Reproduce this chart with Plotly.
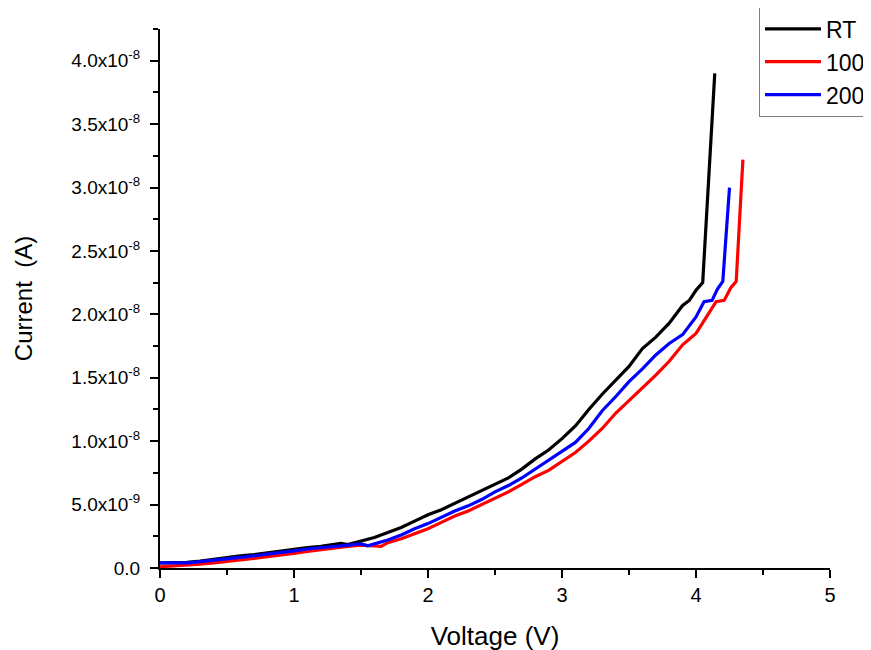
import plotly.graph_objects as go

# Voltage (V) and current (x1e-8 A)
v_rt = [0.0, 0.1, 0.2, 0.3, 0.4, 0.5, 0.6, 0.7, 0.8, 0.9, 1.0, 1.1, 1.2, 1.3, 1.35, 1.4, 1.5,
        1.6, 1.7, 1.8, 1.9, 2.0, 2.1, 2.2, 2.3, 2.4, 2.5, 2.6, 2.7, 2.8, 2.9, 3.0, 3.1,
        3.2, 3.3, 3.4, 3.5, 3.6, 3.7, 3.8, 3.9, 3.95, 4.0, 4.05, 4.14]
i_rt = [0.04, 0.04, 0.045, 0.055, 0.07, 0.08, 0.095, 0.105, 0.12, 0.13, 0.145, 0.16, 0.17,
        0.185, 0.195, 0.185, 0.21, 0.24, 0.28, 0.32, 0.37, 0.42, 0.46, 0.51, 0.56, 0.61,
        0.655, 0.71, 0.78, 0.86, 0.93, 1.02, 1.12, 1.25, 1.37, 1.48, 1.59, 1.73, 1.82,
        1.93, 2.07, 2.11, 2.19, 2.25, 3.90]

v_100 = [0.0, 0.1, 0.2, 0.3, 0.4, 0.5, 0.6, 0.7, 0.8, 0.9, 1.0, 1.1, 1.2, 1.3, 1.4, 1.5,
         1.6, 1.65, 1.7, 1.8, 1.9, 2.0, 2.1, 2.2, 2.3, 2.4, 2.5, 2.6, 2.7, 2.8, 2.9, 3.0,
         3.1, 3.2, 3.3, 3.4, 3.5, 3.6, 3.7, 3.8, 3.9, 4.0, 4.1, 4.15, 4.21, 4.26, 4.30, 4.35]
i_100 = [0.01, 0.015, 0.02, 0.03, 0.04, 0.05, 0.065, 0.075, 0.09, 0.10, 0.115, 0.13, 0.145,
         0.16, 0.17, 0.18, 0.175, 0.17, 0.20, 0.23, 0.27, 0.31, 0.36, 0.41, 0.45, 0.50,
         0.55, 0.60, 0.66, 0.72, 0.77, 0.84, 0.91, 1.00, 1.10, 1.22, 1.32, 1.42, 1.52,
         1.63, 1.76, 1.85, 2.01, 2.10, 2.11, 2.21, 2.26, 3.22]

v_200 = [0.0, 0.1, 0.2, 0.3, 0.4, 0.5, 0.6, 0.7, 0.8, 0.9, 1.0, 1.1, 1.2, 1.3, 1.4, 1.5,
         1.55, 1.6, 1.7, 1.8, 1.9, 2.0, 2.1, 2.2, 2.3, 2.4, 2.5, 2.6, 2.7, 2.8, 2.9, 3.0,
         3.1, 3.2, 3.3, 3.4, 3.5, 3.6, 3.7, 3.8, 3.9, 4.0, 4.06, 4.12, 4.16, 4.20, 4.25]
i_200 = [0.04, 0.04, 0.04, 0.05, 0.06, 0.075, 0.085, 0.095, 0.11, 0.12, 0.135, 0.15, 0.16,
         0.175, 0.185, 0.19, 0.175, 0.19, 0.22, 0.26, 0.31, 0.35, 0.40, 0.45, 0.49, 0.54,
         0.60, 0.65, 0.71, 0.78, 0.85, 0.92, 0.99, 1.10, 1.24, 1.35, 1.47, 1.57, 1.68,
         1.77, 1.84, 1.98, 2.10, 2.11, 2.20, 2.26, 3.00]

series_names = ["RT", "100", "200"]
series_colors = ["#000000", "#ff0000", "#0000ff"]

y_tick_vals = [0, 0.5e-8, 1.0e-8, 1.5e-8, 2.0e-8, 2.5e-8, 3.0e-8, 3.5e-8, 4.0e-8]
y_tick_text = ["0.0", "5.0x10<sup>-9</sup>", "1.0x10<sup>-8</sup>", "1.5x10<sup>-8</sup>",
               "2.0x10<sup>-8</sup>", "2.5x10<sup>-8</sup>", "3.0x10<sup>-8</sup>",
               "3.5x10<sup>-8</sup>", "4.0x10<sup>-8</sup>"]
y_minor_vals = [0.25e-8, 0.75e-8, 1.25e-8, 1.75e-8, 2.25e-8, 2.75e-8, 3.25e-8, 3.75e-8, 4.25e-8]
x_tick_vals = [0, 1, 2, 3, 4, 5]
x_minor_vals = [0.5, 1.5, 2.5, 3.5, 4.5]

fig = go.Figure()
for v, i, name, col in [(v_rt, i_rt, series_names[0], series_colors[0]),
                        (v_100, i_100, series_names[1], series_colors[1]),
                        (v_200, i_200, series_names[2], series_colors[2])]:
    fig.add_trace(go.Scatter(x=v, y=[a * 1e-8 for a in i], mode="lines", name=name,
                             line=dict(color=col, width=3.2)))

font_family = "Liberation Sans, Arial, sans-serif"
fig.update_layout(
    width=871, height=650,
    margin=dict(l=152, r=49, t=21, b=90, autoexpand=False),
    plot_bgcolor="white", paper_bgcolor="white",
    font=dict(family=font_family, color="black", size=18),
    legend=dict(x=0.894, y=1.042, xanchor="left", yanchor="top",
                bordercolor="#808080", borderwidth=1, bgcolor="white",
                font=dict(size=23), tracegroupgap=0, itemwidth=56),
    showlegend=True,
)
fig.update_xaxes(
    range=[0, 5], showline=True, linecolor="black", linewidth=2, mirror=False,
    showgrid=False, zeroline=False,
    tickmode="array", tickvals=x_tick_vals, ticks="outside", ticklen=8, tickwidth=2,
    tickcolor="black", tickfont=dict(size=20),
    minor=dict(tickvals=x_minor_vals, ticks="outside", ticklen=5, tickwidth=2, tickcolor="black"),
    title=dict(text="Voltage (V)", font=dict(size=26), standoff=22),
)
fig.update_yaxes(
    range=[0, 4.25e-8], showline=True, linecolor="black", linewidth=2, mirror=False,
    showgrid=False, zeroline=False,
    tickmode="array", tickvals=y_tick_vals, ticktext=y_tick_text, ticks="outside",
    ticklen=8, tickwidth=2, tickcolor="black", tickfont=dict(size=19),
    ticklabelstandoff=6,
    minor=dict(tickvals=y_minor_vals, ticks="outside", ticklen=5, tickwidth=2, tickcolor="black"),
    title=dict(text="Current  (A)", font=dict(size=24), standoff=32),
)
fig.write_html("out.html")
